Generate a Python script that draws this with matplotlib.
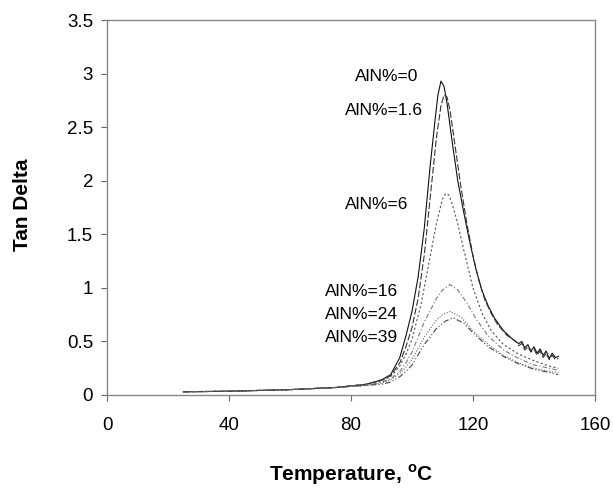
import matplotlib
matplotlib.use("Agg")
import matplotlib.pyplot as plt

plt.rcParams['font.family'] = ['Liberation Sans', 'DejaVu Sans']
plt.rcParams['mathtext.fontset'] = 'custom'
plt.rcParams['mathtext.bf'] = 'Liberation Sans:bold'
plt.rcParams['mathtext.rm'] = 'Liberation Sans'

# AlN%=0
t0 = [25, 40, 60, 75, 85, 90, 93, 96, 98, 100, 102, 104, 106, 107.5, 108.5, 109.5,
      110.5, 111.5, 113, 115, 117, 119, 121, 123, 125, 127, 130, 133, 135, 136, 137,
      138, 139, 140, 141, 142, 143, 144, 145, 146, 147, 148]
v0 = [0.03, 0.035, 0.05, 0.07, 0.1, 0.14, 0.19, 0.35, 0.55, 0.78, 1.1, 1.55, 2.15, 2.55, 2.8, 2.93,
      2.88, 2.72, 2.4, 2.0, 1.7, 1.42, 1.17, 0.97, 0.83, 0.72, 0.6, 0.52, 0.48, 0.5, 0.44,
      0.47, 0.41, 0.45, 0.39, 0.43, 0.37, 0.41, 0.34, 0.39, 0.35, 0.36]

# AlN%=1.6
t1 = [25, 40, 60, 75, 85, 90, 93, 96, 98, 100, 102, 104, 106, 108, 109.5, 110.5,
      111.5, 112.5, 114, 116, 118, 120, 122, 124, 126, 128, 131, 134, 135, 136, 137,
      138, 139, 140, 141, 142, 143, 144, 145, 146, 147, 148]
v1 = [0.03, 0.035, 0.05, 0.07, 0.1, 0.14, 0.18, 0.3, 0.45, 0.63, 0.9, 1.3, 1.85, 2.4, 2.7, 2.8,
      2.78, 2.65, 2.35, 1.95, 1.6, 1.3, 1.06, 0.88, 0.76, 0.66, 0.56, 0.5, 0.46, 0.48, 0.42,
      0.45, 0.4, 0.43, 0.37, 0.41, 0.35, 0.39, 0.33, 0.37, 0.33, 0.34]

# AlN%=6
t2 = [25, 40, 60, 75, 85, 90, 93, 96, 98, 100, 103, 106, 108, 110, 111, 112, 113,
      115, 117, 120, 123, 126, 130, 135, 140, 145, 148]
v2 = [0.03, 0.035, 0.05, 0.07, 0.1, 0.13, 0.17, 0.27, 0.38, 0.52, 0.85, 1.3, 1.6, 1.83, 1.88, 1.87, 1.8,
      1.6, 1.35, 1.0, 0.76, 0.6, 0.47, 0.38, 0.32, 0.27, 0.25]

# AlN%=16
t3 = [25, 40, 60, 75, 85, 90, 93, 96, 98, 100, 104, 108, 110, 112.5, 115,
      118, 121, 125, 130, 135, 140, 145, 148]
v3 = [0.03, 0.035, 0.05, 0.07, 0.09, 0.12, 0.15, 0.22, 0.3, 0.4, 0.68, 0.9, 0.98, 1.03, 0.98,
      0.86, 0.71, 0.55, 0.42, 0.34, 0.28, 0.25, 0.23]

# AlN%=24
t4 = [25, 40, 60, 75, 85, 90, 93, 96, 98, 100, 104, 108, 110, 112.5, 116,
      120, 125, 130, 135, 140, 145, 148]
v4 = [0.03, 0.035, 0.05, 0.07, 0.09, 0.11, 0.14, 0.2, 0.26, 0.33, 0.54, 0.7, 0.75, 0.78, 0.73,
      0.6, 0.47, 0.37, 0.3, 0.25, 0.22, 0.21]

# AlN%=39
t5 = [25, 40, 60, 75, 85, 90, 93, 96, 98, 100, 104, 108, 111, 113.5, 117,
      120, 125, 130, 135, 140, 145, 148]
v5 = [0.03, 0.035, 0.05, 0.07, 0.09, 0.1, 0.12, 0.17, 0.22, 0.28, 0.47, 0.62, 0.69, 0.72, 0.67,
      0.58, 0.45, 0.36, 0.29, 0.24, 0.21, 0.19]

labels = ["AlN%=0", "AlN%=1.6", "AlN%=6", "AlN%=16", "AlN%=24", "AlN%=39"]
label_x = [102, 103.6, 98.7, 95.4, 95.4, 95.4]
label_y = [2.97, 2.66, 1.78, 0.97, 0.75, 0.54]

series = [(t0, v0), (t1, v1), (t2, v2), (t3, v3), (t4, v4), (t5, v5)]
colors = ["#111111", "#333333", "#555555", "#777777", "#666666", "#444444"]
styles = ["-", (0, (6, 2)), (0, (2, 2)), (0, (4, 2, 1, 2)), (0, (1, 1.5)), (0, (5, 2, 1, 2, 1, 2))]

fig = plt.figure(figsize=(6.13, 4.88), dpi=100)
ax = fig.add_axes([0.1746, 0.1906, 0.796, 0.7684])

for (t, v), c, ls in zip(series, colors, styles):
    ax.plot(t, v, color=c, linestyle=ls, linewidth=0.8)

for txt, x, y in zip(labels, label_x, label_y):
    ax.text(x, y, txt, ha="right", va="center", fontsize=12.5)

ax.set_xlim(0, 160)
ax.set_ylim(0, 3.5)
ax.set_xticks([0, 40, 80, 120, 160])
ax.set_yticks([0, 0.5, 1, 1.5, 2, 2.5, 3, 3.5])
ax.set_yticklabels(["0", "0.5", "1", "1.5", "2", "2.5", "3", "3.5"])

for s in ax.spines.values():
    s.set_color("#888888")
    s.set_linewidth(1)
ax.tick_params(direction="out", length=4, color="#666666", labelsize=13.5)
ax.tick_params(axis="x", pad=12)
ax.tick_params(axis="y", pad=6)

ax.set_xlabel(r"Temperature, $^{\mathbf{o}}$C", fontsize=15, fontweight="bold")
ax.set_ylabel("Tan Delta", fontsize=15, fontweight="bold")
ax.xaxis.label.set_verticalalignment("center")
ax.yaxis.label.set_verticalalignment("center")
ax.xaxis.set_label_coords(0.501, -0.213)
ax.yaxis.set_label_coords(-0.174, 0.507)

fig.savefig("out.png", dpi=100)
